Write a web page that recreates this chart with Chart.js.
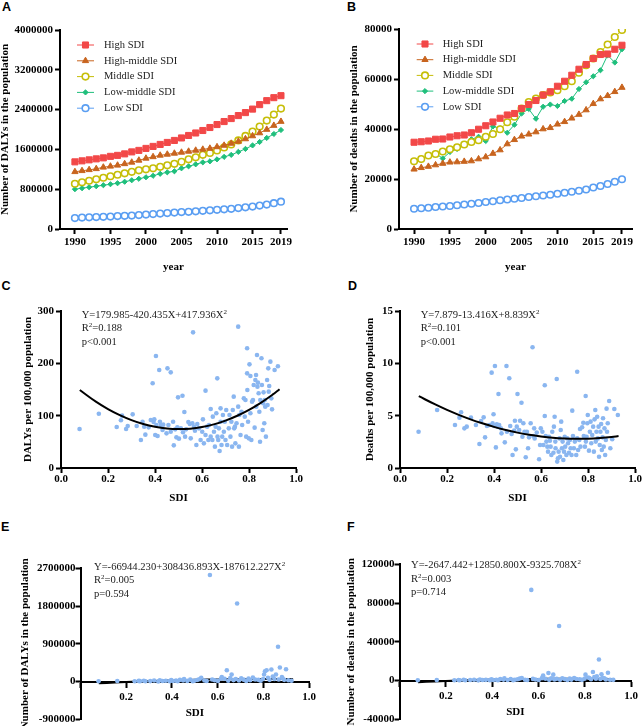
<!DOCTYPE html>
<html><head><meta charset="utf-8">
<script src="https://cdn.jsdelivr.net/npm/chart.js@4.4.1/dist/chart.umd.min.js"></script>
<style>
html,body{margin:0;padding:0;background:#fff;}
body{width:642px;height:726px;overflow:hidden;position:relative;}
canvas{position:absolute;}
.lbl{position:absolute;font:bold 12.5px "Liberation Sans",Arial,sans-serif;line-height:1;color:#000;}
.eq{position:absolute;font:10.6px "Liberation Serif","Times New Roman",serif;line-height:13.5px;color:#222;white-space:nowrap;}
.eq sup{font-size:7px;line-height:0;vertical-align:4px;}
</style></head><body>
<div class="lbl" style="left:2px;top:1px">A</div>
<div class="lbl" style="left:347px;top:1px">B</div>
<div class="lbl" style="left:1.5px;top:280.4px">C</div>
<div class="lbl" style="left:348px;top:280.4px">D</div>
<div class="lbl" style="left:1px;top:521.4px">E</div>
<div class="lbl" style="left:347px;top:521.4px">F</div>

<canvas id="cA" width="320" height="290" style="left:0;top:0"></canvas>
<canvas id="cB" width="322" height="290" style="left:320px;top:0"></canvas>
<canvas id="cC" width="320" height="230" style="left:0;top:280px"></canvas>
<canvas id="cD" width="322" height="230" style="left:320px;top:280px"></canvas>
<canvas id="cE" width="320" height="200" style="left:0;top:540px"></canvas>
<canvas id="cF" width="322" height="200" style="left:320px;top:540px"></canvas>

<div class="eq" style="left:81.7px;top:307.7px">Y=179.985-420.435X+417.936X<sup>2</sup><br>R<sup>2</sup>=0.188<br>p&lt;0.001</div>
<div class="eq" style="left:420.7px;top:307.7px">Y=7.879-13.416X+8.839X<sup>2</sup><br>R<sup>2</sup>=0.101<br>p&lt;0.001</div>
<div class="eq" style="left:94px;top:559.7px">Y=-66944.230+308436.893X-187612.227X<sup>2</sup><br>R<sup>2</sup>=0.005<br>p=0.594</div>
<div class="eq" style="left:411px;top:558px">Y=-2647.442+12850.800X-9325.708X<sup>2</sup><br>R<sup>2</sup>=0.003<br>p=0.714</div>

<script>
// ---------- DATA ----------
const years = [1990,1991,1992,1993,1994,1995,1996,1997,1998,1999,2000,2001,2002,2003,2004,2005,2006,2007,2008,2009,2010,2011,2012,2013,2014,2015,2016,2017,2018,2019];
const yearTicks = [1990,1995,2000,2005,2010,2015,2019];
const seriesNames = ['High SDI','High-middle SDI','Middle SDI','Low-middle SDI','Low SDI'];

const dalysHigh = [1350000,1370000,1390000,1410000,1430000,1460000,1480000,1510000,1550000,1580000,1620000,1660000,1700000,1740000,1780000,1830000,1880000,1930000,1980000,2040000,2100000,2160000,2220000,2280000,2340000,2410000,2500000,2580000,2640000,2680000];
const dalysHighMid = [1150000,1170000,1190000,1210000,1240000,1260000,1280000,1310000,1340000,1380000,1420000,1450000,1480000,1500000,1520000,1540000,1560000,1580000,1600000,1620000,1650000,1680000,1720000,1760000,1810000,1870000,1930000,2000000,2080000,2160000];
const dalysMid = [910000,940000,970000,1000000,1030000,1060000,1090000,1120000,1150000,1180000,1200000,1220000,1250000,1280000,1310000,1350000,1400000,1440000,1490000,1530000,1580000,1640000,1700000,1780000,1870000,1960000,2060000,2180000,2300000,2420000];
const dalysLowMid = [800000,820000,840000,860000,880000,900000,920000,950000,980000,1010000,1040000,1070000,1110000,1140000,1160000,1220000,1260000,1300000,1340000,1360000,1400000,1450000,1490000,1550000,1610000,1680000,1750000,1830000,1910000,1990000];
const dalysLow = [220000,230000,235000,240000,245000,250000,260000,265000,270000,280000,290000,300000,310000,320000,330000,340000,345000,355000,365000,375000,385000,395000,405000,420000,435000,450000,470000,490000,520000,550000];

const deathsHigh = [34700,34900,35200,35900,36000,36800,37300,37600,38500,39900,41300,42800,44300,45600,46200,48200,49800,51400,53600,54900,57100,59100,61500,63900,65800,68200,69800,70000,71900,73500];
const deathsHighMid = [23900,24500,25000,25600,26200,26700,26800,27000,27200,28000,28800,30200,31600,34000,35700,37100,37900,38800,40000,40500,41900,42900,44300,45800,47600,50100,52000,53300,54900,56600];
const deathsMid = [27100,28000,29400,30000,31000,31900,32700,33800,34800,35500,36900,38000,39900,42700,44900,48200,50800,52200,53600,54600,55500,57100,59100,62500,65500,68200,70800,73800,76800,79600];
const deathsLowMid = [26700,27600,29400,30300,28200,30800,32000,33800,35900,36900,35200,41000,40300,38500,41700,46200,48000,44100,48900,49800,49200,51200,52100,56000,58700,61100,63500,69500,66600,71900];
const deathsLow = [8100,8300,8500,8800,9000,9200,9500,9800,10100,10400,10800,11100,11500,11800,12100,12400,12800,13100,13400,13700,14100,14500,14900,15300,15800,16600,17200,18000,18900,19900];

// Panel C: [SDI, DALYs per 100,000]
const dalyRatePoints = [[0.079,74.5],[0.161,103.8],[0.237,78.3],[0.255,91.1],[0.260,100.0],[0.277,74.5],[0.284,80.3],[0.305,102.5],[0.322,80.3],[0.340,53.5],[0.347,88.5],[0.354,79.0],[0.359,63.7],[0.373,77.7],[0.382,91.7],[0.390,161.8],[0.394,87.9],[0.397,93.0],[0.401,63.1],[0.404,214.0],[0.406,82.2],[0.411,61.1],[0.418,187.3],[0.421,88.5],[0.425,82.2],[0.432,72.6],[0.435,82.8],[0.449,66.2],[0.453,190.4],[0.467,182.8],[0.457,82.2],[0.467,69.4],[0.477,88.5],[0.480,43.3],[0.486,73.9],[0.491,58.6],[0.495,77.7],[0.498,135.0],[0.502,56.1],[0.510,75.8],[0.517,138.2],[0.519,68.2],[0.525,107.0],[0.528,59.9],[0.532,73.9],[0.542,87.9],[0.548,84.1],[0.552,56.7],[0.559,85.4],[0.562,259.2],[0.566,79.0],[0.570,71.3],[0.576,43.9],[0.580,84.1],[0.587,75.8],[0.594,53.5],[0.601,69.4],[0.604,93.0],[0.608,47.1],[0.615,147.8],[0.615,63.1],[0.622,79.0],[0.627,53.5],[0.630,82.2],[0.637,112.7],[0.637,59.9],[0.644,53.5],[0.646,98.1],[0.651,69.4],[0.655,40.8],[0.658,79.0],[0.661,104.5],[0.665,171.3],[0.666,59.9],[0.669,53.5],[0.672,75.8],[0.675,32.5],[0.679,114.0],[0.679,88.5],[0.683,43.9],[0.686,59.9],[0.689,101.3],[0.693,69.4],[0.697,88.5],[0.700,53.5],[0.703,110.8],[0.707,43.9],[0.714,75.8],[0.717,101.3],[0.721,59.9],[0.725,88.5],[0.728,40.8],[0.731,110.8],[0.735,136.3],[0.737,75.8],[0.740,79.0],[0.742,47.1],[0.747,85.4],[0.754,270.1],[0.754,117.2],[0.757,40.8],[0.759,101.3],[0.764,63.1],[0.768,107.6],[0.771,82.2],[0.778,133.1],[0.782,98.1],[0.785,129.9],[0.788,59.9],[0.792,228.7],[0.792,180.9],[0.793,149.0],[0.796,88.5],[0.799,56.7],[0.802,198.1],[0.806,104.5],[0.806,175.8],[0.810,53.5],[0.813,126.8],[0.817,129.9],[0.820,158.6],[0.824,77.1],[0.827,168.2],[0.830,177.7],[0.831,117.2],[0.834,215.9],[0.836,155.4],[0.838,163.1],[0.841,142.7],[0.844,107.6],[0.847,50.3],[0.848,129.9],[0.853,209.6],[0.855,158.6],[0.858,72.6],[0.860,123.6],[0.862,144.6],[0.865,85.4],[0.867,129.9],[0.869,117.2],[0.872,59.9],[0.877,168.2],[0.879,120.4],[0.882,190.4],[0.884,145.9],[0.886,156.7],[0.891,203.2],[0.895,133.1],[0.898,112.1],[0.909,187.3],[0.923,194.3]];

// Panel D: [SDI, deaths per 100,000]
const deathRatePoints = [[0.079,3.47],[0.158,5.54],[0.234,4.11],[0.253,4.81],[0.260,5.32],[0.274,3.79],[0.284,3.95],[0.302,4.81],[0.323,4.11],[0.338,2.29],[0.345,4.49],[0.356,4.84],[0.362,2.93],[0.370,4.01],[0.380,4.11],[0.390,9.11],[0.394,4.27],[0.398,5.13],[0.401,4.01],[0.404,9.75],[0.408,1.97],[0.412,4.17],[0.415,3.95],[0.419,7.07],[0.422,4.11],[0.429,3.79],[0.432,3.31],[0.446,2.45],[0.453,9.75],[0.455,3.47],[0.465,8.57],[0.469,4.01],[0.475,3.25],[0.479,1.24],[0.486,3.57],[0.489,4.52],[0.493,1.78],[0.497,3.95],[0.500,7.07],[0.507,3.63],[0.511,4.52],[0.517,6.24],[0.521,2.99],[0.525,4.27],[0.530,3.47],[0.535,1.02],[0.540,3.47],[0.545,1.88],[0.549,2.93],[0.556,4.27],[0.564,11.53],[0.568,3.06],[0.571,3.79],[0.573,2.83],[0.582,3.38],[0.592,0.83],[0.596,2.20],[0.599,3.79],[0.606,3.47],[0.610,2.20],[0.616,7.90],[0.616,4.97],[0.620,3.06],[0.623,2.52],[0.627,2.04],[0.630,1.56],[0.634,2.99],[0.638,2.61],[0.641,2.04],[0.644,1.24],[0.648,3.47],[0.653,1.46],[0.655,3.95],[0.658,4.90],[0.661,2.52],[0.662,1.88],[0.667,8.50],[0.669,0.61],[0.672,0.92],[0.675,1.56],[0.679,2.83],[0.681,1.08],[0.684,3.63],[0.686,4.43],[0.689,1.88],[0.692,2.52],[0.695,0.76],[0.698,1.56],[0.701,2.99],[0.703,2.04],[0.708,1.24],[0.712,2.83],[0.715,2.36],[0.719,1.46],[0.723,2.68],[0.726,1.88],[0.730,1.24],[0.733,5.48],[0.736,3.06],[0.740,1.88],[0.744,2.52],[0.750,1.24],[0.754,9.20],[0.754,2.83],[0.758,1.72],[0.763,2.68],[0.766,3.73],[0.768,2.04],[0.775,3.89],[0.780,4.33],[0.782,3.06],[0.787,2.04],[0.790,6.88],[0.791,2.52],[0.794,2.99],[0.797,4.27],[0.799,5.06],[0.804,1.66],[0.808,3.47],[0.811,4.43],[0.814,2.36],[0.818,3.15],[0.822,3.95],[0.825,1.56],[0.828,4.65],[0.831,5.54],[0.833,2.52],[0.836,3.47],[0.839,4.90],[0.842,2.83],[0.845,3.95],[0.847,1.08],[0.850,2.20],[0.853,3.47],[0.856,4.20],[0.859,1.72],[0.862,2.93],[0.864,4.75],[0.867,2.04],[0.870,3.79],[0.873,1.24],[0.876,2.68],[0.879,5.67],[0.881,3.47],[0.884,4.27],[0.890,6.40],[0.895,1.88],[0.903,2.74],[0.912,5.64],[0.927,5.06]];

// Panel E: [SDI, number of DALYs]
const dalyNumPoints = [[0.079,8000],[0.161,12000],[0.237,6000],[0.255,15000],[0.260,9000],[0.277,20000],[0.284,7000],[0.305,11000],[0.322,25000],[0.340,4000],[0.347,30000],[0.359,12000],[0.373,18000],[0.390,9000],[0.397,35000],[0.404,14000],[0.418,22000],[0.425,6000],[0.435,40000],[0.449,28000],[0.453,60000],[0.467,15000],[0.480,45000],[0.491,10000],[0.498,20000],[0.510,38000],[0.519,55000],[0.528,90000],[0.542,25000],[0.552,12000],[0.566,2540000],[0.576,48000],[0.587,30000],[0.601,16000],[0.615,70000],[0.618,110000],[0.630,65000],[0.640,270000],[0.646,20000],[0.655,85000],[0.661,167000],[0.669,35000],[0.679,60000],[0.685,1860000],[0.693,25000],[0.703,80000],[0.714,45000],[0.725,15000],[0.735,70000],[0.742,30000],[0.754,95000],[0.764,50000],[0.778,40000],[0.788,20000],[0.799,60000],[0.803,167000],[0.807,247000],[0.814,270000],[0.820,90000],[0.827,40000],[0.835,287000],[0.841,120000],[0.848,60000],[0.855,167000],[0.864,830000],[0.867,50000],[0.872,334000],[0.881,110000],[0.884,80000],[0.891,40000],[0.899,295000],[0.909,30000],[0.923,20000]];

// Panel F: [SDI, number of deaths]
const deathNumPoints = [[0.079,300],[0.161,450],[0.237,250],[0.255,600],[0.260,350],[0.277,800],[0.284,300],[0.305,500],[0.322,900],[0.340,200],[0.347,1100],[0.359,500],[0.373,700],[0.390,400],[0.397,1300],[0.404,600],[0.418,900],[0.425,250],[0.435,1500],[0.449,1000],[0.453,2200],[0.467,600],[0.480,1600],[0.491,400],[0.498,800],[0.510,1400],[0.519,2000],[0.528,2600],[0.542,900],[0.552,500],[0.569,93600],[0.576,1700],[0.587,1100],[0.601,600],[0.615,2500],[0.620,5100],[0.630,1800],[0.643,7800],[0.646,700],[0.655,2200],[0.664,6100],[0.669,1200],[0.679,1900],[0.689,56300],[0.693,900],[0.703,2300],[0.714,1500],[0.725,600],[0.735,2000],[0.742,1000],[0.754,2700],[0.764,1600],[0.778,1300],[0.788,700],[0.799,1900],[0.803,6100],[0.814,3200],[0.820,2600],[0.827,1300],[0.835,8800],[0.841,3500],[0.848,1800],[0.852,4400],[0.861,21700],[0.867,1600],[0.872,6400],[0.877,2900],[0.884,2400],[0.891,1200],[0.900,8100],[0.909,900],[0.923,700]];

// Fitted quadratic curves
const fitX = [0.08,0.15,0.20,0.25,0.30,0.35,0.40,0.45,0.50,0.55,0.60,0.65,0.70,0.75,0.80,0.85,0.90,0.93];
const fitC = [149.0,126.3,112.6,101.0,91.5,84.0,78.7,75.4,74.3,75.2,78.2,83.3,90.5,99.8,111.1,124.6,140.1,150.5];
const fitD = [6.86,6.07,5.55,5.08,4.65,4.27,3.93,3.63,3.38,3.17,3.01,2.89,2.82,2.79,2.80,2.86,2.96,3.05];
const fitE = [-43470,-25100,-12761,-1400,8702,17900,26413,34100,40371,46000,50578,54300,57032,58700,59734,59700,58683,57634];
const fitF = [-1679,-967,-450,35,369,710,1001,1250,1447,1595,1706,1770,1779,1740,1666,1540,1365,1238];

// ---------- STYLE ----------
Chart.defaults.font.family = '"Liberation Serif","Times New Roman",serif';
Chart.defaults.color = '#000';
const tickFont = {family:'"Liberation Serif","Times New Roman",serif', size:11, weight:'bold'};
const titleFont = {family:'"Liberation Serif","Times New Roman",serif', size:11, weight:'bold', lineHeight:1};
const dotColor = 'rgb(138,182,240)';
const seriesColors = ['#F24848','#C8641E','#C6BE08','#1FBF7C','#5A9EF2'];

function gridOpts(){ return {display:true, drawOnChartArea:false, drawTicks:true, tickLength:5, tickWidth:2, tickColor:'#000'}; }
function borderOpts(){ return {display:true, color:'#000', width:2}; }

function yAxis(min,max,step,width,title,pad){
  return {type:'linear', position:'left', min:min, max:max,
    ticks:{stepSize:step, font:tickFont, color:'#000', padding:pad, autoSkip:false, callback:v=>String(v)},
    grid:gridOpts(), border:borderOpts(),
    title:{display:true, text:title, font:titleFont, color:'#000', padding:0},
    afterFit:s=>{s.width=width;}};
}

const lineLegend = {
  id:'lineLegend',
  afterDatasetsDraw(chart, args, o){
    const ctx = chart.ctx;
    ctx.save();
    chart.data.datasets.forEach((ds,i)=>{
      const y = o.y + i*o.dy;
      ctx.strokeStyle = ds.borderColor; ctx.lineWidth = 1;
      ctx.beginPath(); ctx.moveTo(o.x1,y); ctx.lineTo(o.x2,y); ctx.stroke();
      ctx.fillStyle = ds.pointBackgroundColor; ctx.strokeStyle = ds.pointBorderColor; ctx.lineWidth = ds.pointBorderWidth;
      Chart.helpers.drawPoint(ctx, {pointStyle:ds.pointStyle, radius:ds.pointRadius, borderWidth:ds.pointBorderWidth, rotation:0}, (o.x1+o.x2)/2, y);
      ctx.fillStyle = '#222'; ctx.font = '10.5px "Liberation Serif","Times New Roman",serif';
      ctx.textBaseline = 'middle'; ctx.textAlign = 'left';
      ctx.fillText(ds.label, o.tx, y);
    });
    ctx.restore();
  }
};

function seriesDS(i, values){
  const styles = [
    {pointStyle:'rect', pointRadius:4.3, fill:seriesColors[0], bw:1},
    {pointStyle:'triangle', pointRadius:3.6, fill:seriesColors[1], bw:1},
    {pointStyle:'circle', pointRadius:3.3, fill:'#ffffff', bw:1.6},
    {pointStyle:'rectRot', pointRadius:2.6, fill:seriesColors[3], bw:1},
    {pointStyle:'circle', pointRadius:3.3, fill:'#ffffff', bw:1.6}
  ][i];
  return {label:seriesNames[i], data:years.map((y,k)=>({x:y, y:values[k]})),
    borderColor:seriesColors[i], backgroundColor:seriesColors[i], borderWidth:1,
    pointStyle:styles.pointStyle, pointRadius:styles.pointRadius, pointHoverRadius:styles.pointRadius,
    pointBackgroundColor:styles.fill, pointBorderColor:seriesColors[i], pointBorderWidth:styles.bw, tension:0};
}

function lineChart(id, seriesList, xmin, xmax, ymax, ystep, yWidth, yTitle, pad, legend){
  new Chart(document.getElementById(id), {
    type:'line',
    data:{datasets:seriesList.map((v,i)=>seriesDS(i,v))},
    options:{responsive:false, animation:false, devicePixelRatio:1,
      layout:{padding:pad},
      plugins:{legend:{display:false}, tooltip:{enabled:false}, lineLegend:legend},
      scales:{
        x:{type:'linear', position:'bottom', min:xmin, max:xmax,
          afterBuildTicks:s=>{s.ticks = yearTicks.map(v=>({value:v}));},
          ticks:{font:tickFont, color:'#000', padding:2, autoSkip:false, maxRotation:0, callback:v=>String(v)},
          grid:gridOpts(), border:borderOpts(),
          title:{display:true, text:'year', font:titleFont, color:'#000', padding:0},
          afterFit:s=>{s.height=43.5;}},
        y:yAxis(0, ymax, ystep, yWidth, yTitle, 2)
      }},
    plugins:[lineLegend]
  });
}

lineChart('cA', [dalysHigh,dalysHighMid,dalysMid,dalysLowMid,dalysLow], 1987.9, 2019.85, 4000000, 800000, 60,
  'Number of DALYs in the population', {left:0, top:30, right:33, bottom:17.5},
  {x1:77, x2:94, tx:104, y:45, dy:15.8});
lineChart('cB', [deathsHigh,deathsHighMid,deathsMid,deathsLowMid,deathsLow], 1987.9, 2020.4, 80000, 20000, 50.5,
  'Number of deaths in the population', {left:28.5, top:29, right:10, bottom:17.5},
  {x1:96.7, x2:113.3, tx:122.7, y:44, dy:15.7});

function scatterChart(id, pts, fitY, yOpt, pad, xOpt, curveOnTop){
  new Chart(document.getElementById(id), {
    type:'scatter',
    data:{datasets:[
      {data:pts.map(p=>({x:p[0], y:p[1]})), backgroundColor:dotColor, borderWidth:0, pointRadius:2.3, pointHoverRadius:2.3, order:curveOnTop?2:0},
      {type:'line', data:fitX.map((x,i)=>({x:x, y:fitY[i]})), borderColor:'#000', borderWidth:2, pointRadius:0, tension:0.4, showLine:true, fill:false, order:curveOnTop?0:2}
    ]},
    options:{responsive:false, animation:false, devicePixelRatio:1,
      layout:{padding:pad},
      plugins:{legend:{display:false}, tooltip:{enabled:false}},
      scales:{x:xOpt, y:yOpt}}
  });
}

function xSDI(height, positionObj, hideZero, tickPad){
  return {type:'linear', position: positionObj || 'bottom', min:0, max:1,
    ticks:{stepSize:0.2, font:tickFont, color:'#000', padding:tickPad, autoSkip:false, maxRotation:0,
      callback:v=> (hideZero && Math.abs(v)<1e-9) ? '' : Number(v).toFixed(1)},
    grid:gridOpts(), border:borderOpts(),
    title:{display:true, text:'SDI', font:titleFont, color:'#000', padding:0},
    afterFit:s=>{s.height=height;}};
}

scatterChart('cC', dalyRatePoints, fitC, yAxis(0,300,100,38.5,'DALYs per 100,000 population',2),
  {left:22.5, top:31, right:24, bottom:6.5}, xSDI(35.5, null, false, 0), true);
scatterChart('cD', deathRatePoints, fitD, yAxis(0,15,5,35.5,'Deaths per 100,000 population',2),
  {left:44.5, top:31, right:7, bottom:6.5}, xSDI(35.5, null, false, 0), true);
scatterChart('cE', dalyNumPoints, fitE, yAxis(-900000,2700000,900000,61,'Number of DALYs in the population',0),
  {left:19.5, top:28.3, right:4, bottom:20.7}, xSDI(37.5, {y:0}, true, 4), false);
scatterChart('cF', deathNumPoints, fitF, yAxis(-40000,120000,40000,54,'Number of deaths in the population',0),
  {left:25.5, top:24.3, right:7.3, bottom:20.7}, xSDI(37.5, {y:0}, true, 4), false);
</script>
</body></html>
